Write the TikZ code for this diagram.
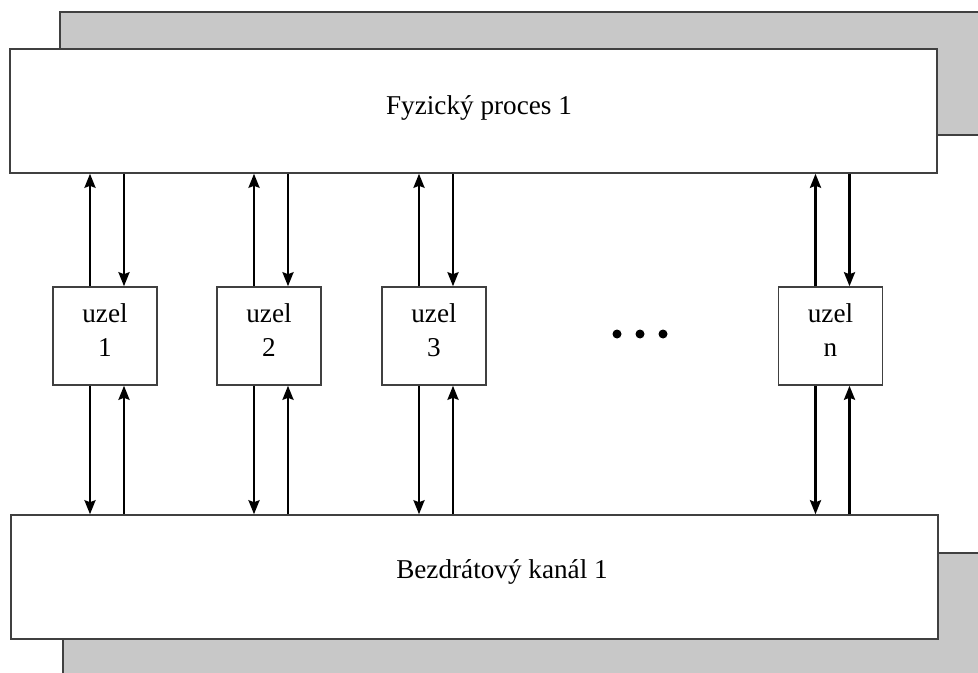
\documentclass[tikz,border=0pt]{standalone}
\usepackage{fontspec}
\setmainfont{Liberation Serif}
\usetikzlibrary{arrows.meta}
\definecolor{boxline}{HTML}{404040}
\definecolor{shadegray}{HTML}{C8C8C8}
\begin{document}
\begin{tikzpicture}[x=0.5pt,y=-0.5pt,
  box/.style={draw=boxline, line width=0.75pt, fill=white, inner sep=0pt},
  shadebox/.style={draw=boxline, line width=0.75pt, fill=shadegray},
  unit/.style={box, minimum width=52pt, minimum height=49pt, align=center,
    text depth=6pt, font=\fontsize{13.6}{17}\selectfont},
  lbl/.style={font=\fontsize{13.6}{17}\selectfont, inner sep=0pt, anchor=base},
  link/.style={line width=1.25pt, -{Stealth[length=7pt,width=5.5pt,inset=1pt]}},
  dot/.style={circle, fill=black, inner sep=0pt, minimum size=4.5pt}
]
\useasboundingbox (0,0) rectangle (978,673);
\clip (0,0) rectangle (978,673);

% stacked layers behind the two main blocks
\draw[shadebox] (60,12) rectangle (995,135);
\draw[shadebox] (63,553) rectangle (995,690);

% main blocks
\node[box, minimum width=463.5pt, minimum height=62pt] (proc) at (473.5,111) {};
\node[box, minimum width=463.5pt, minimum height=62pt] (chan) at (474.5,577) {};
\node[lbl] (proctext) at (479,115) {Fyzický proces 1};
\node[lbl] (chantext) at (502,578) {Bezdrátový kanál 1};

% nodes
\node[unit] (u1) at (105,336) {uzel\\1};
\node[unit] (u2) at (269,336) {uzel\\2};
\node[unit] (u3) at (434,336) {uzel\\3};
\node[unit] (un) at (830.5,336) {uzel\\n};

% ellipsis
\node[dot] (d1) at (617,334) {};
\node[dot] (d2) at (640,334) {};
\node[dot] (d3) at (663,334) {};

% links between the nodes and the two blocks
\foreach \u in {u1,u2,u3,un} {
  \draw[link] ([xshift=-7.5pt]\u.north) -- ([xshift=-7.5pt]\u.north |- proc.south);
  \draw[link] ([xshift=9.5pt]\u.north |- proc.south) -- ([xshift=9.5pt]\u.north);
  \draw[link] ([xshift=-7.5pt]\u.south) -- ([xshift=-7.5pt]\u.south |- chan.north);
  \draw[link] ([xshift=9.5pt]\u.south |- chan.north) -- ([xshift=9.5pt]\u.south);
}
\end{tikzpicture}
\end{document}
